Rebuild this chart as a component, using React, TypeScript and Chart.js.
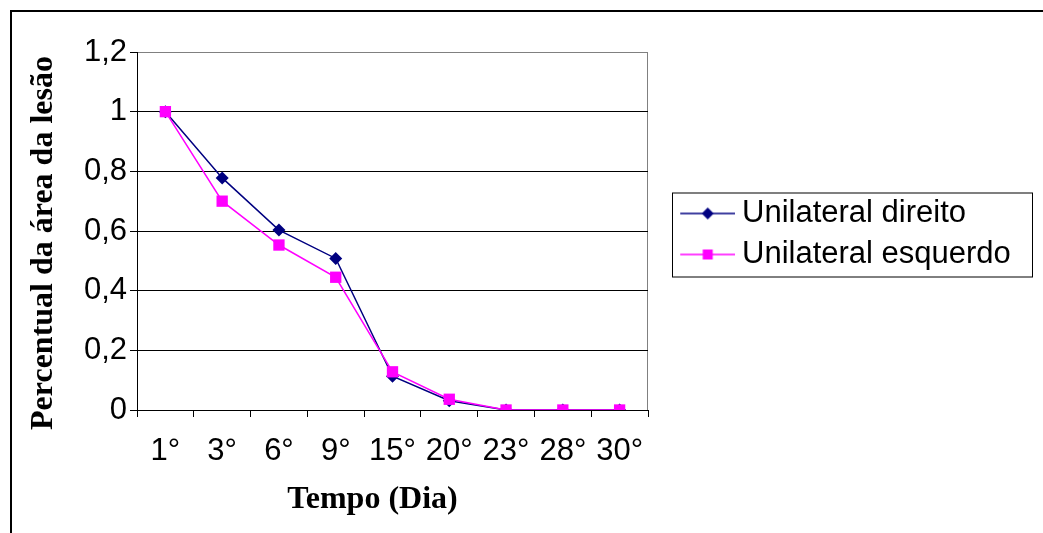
import React, { useEffect, useRef } from "react";
import { Chart, registerables } from "chart.js";

Chart.register(...registerables);

const categories = ["1°", "3°", "6°", "9°", "15°", "20°", "23°", "28°", "30°"];
const direito = [1, 0.778, 0.603, 0.508, 0.113, 0.031, 0, 0, 0];
const esquerdo = [1, 0.7, 0.553, 0.445, 0.128, 0.036, 0, 0, 0];
const seriesLabels = ["Unilateral direito", "Unilateral esquerdo"];
const yTickLabels = ["0", "0,2", "0,4", "0,6", "0,8", "1", "1,2"];
const xTitle = "Tempo (Dia)";
const yTitle = "Percentual da área da lesão";

const NAVY = "#000080";
const MAGENTA = "#FF00FF";

function makeIcon(color: string, shape: "diamond" | "square") {
  const c = document.createElement("canvas");
  c.width = 86;
  c.height = 20;
  const g = c.getContext("2d")!;
  g.strokeStyle = color;
  g.lineWidth = 1.5;
  g.beginPath();
  g.moveTo(31, 10);
  g.lineTo(86, 10);
  g.stroke();
  g.fillStyle = color;
  const cx = 58.5;
  if (shape === "diamond") {
    g.beginPath();
    g.moveTo(cx, 4);
    g.lineTo(cx + 6, 10);
    g.lineTo(cx, 16);
    g.lineTo(cx - 6, 10);
    g.closePath();
    g.fill();
  } else {
    g.fillRect(cx - 5, 5, 10, 10);
  }
  return c;
}

const plotBorder = {
  id: "plotBorder",
  beforeDraw(chart: any) {
    const { ctx, chartArea: a } = chart;
    ctx.save();
    ctx.strokeStyle = "#808080";
    ctx.lineWidth = 1;
    ctx.strokeRect(a.left + 0.5, a.top + 0.5, a.right - a.left - 1, a.bottom - a.top);
    ctx.restore();
  },
  afterDraw(chart: any) {
    const lg = chart.legend;
    if (!lg || !lg.legendHitBoxes || lg.legendHitBoxes.length < 2) return;
    const hb = lg.legendHitBoxes;
    const ctx = chart.ctx;
    const left = chart.chartArea.right + 24;
    const right = chart.chartArea.right + 384;
    const c0 = hb[0].top + hb[0].height / 2;
    const c1 = hb[1].top + hb[1].height / 2;
    const top = c0 - 21;
    const bottom = c1 + 22;
    ctx.save();
    ctx.strokeStyle = "#000";
    ctx.lineWidth = 1;
    ctx.strokeRect(left + 0.5, top + 0.5, right - left, bottom - top);
    ctx.restore();
  },
};

export default function App() {
  const ref = useRef<HTMLCanvasElement>(null);

  useEffect(() => {
    if (!ref.current) return;
    const icons = [makeIcon(NAVY, "diamond"), makeIcon(MAGENTA, "square")];
    const chart = new Chart(ref.current, {
      type: "line",
      data: {
        labels: categories,
        datasets: [
          {
            label: seriesLabels[0],
            data: direito,
            borderColor: NAVY,
            backgroundColor: NAVY,
            borderWidth: 1.5,
            pointStyle: "rectRot",
            pointRadius: 6.5,
            pointBorderWidth: 0,
            pointBackgroundColor: NAVY,
            tension: 0,
            order: 2,
          },
          {
            label: seriesLabels[1],
            data: esquerdo,
            borderColor: MAGENTA,
            backgroundColor: MAGENTA,
            borderWidth: 1.5,
            pointStyle: "rect",
            pointRadius: 8,
            pointBorderWidth: 0,
            pointBackgroundColor: MAGENTA,
            tension: 0,
            order: 1,
          },
        ],
      },
      options: {
        responsive: false,
        animation: false,
        layout: { padding: { top: 52, right: 25, bottom: 0, left: 0 } },
        plugins: {
          tooltip: { enabled: false },
          legend: {
            position: "right",
            fullSize: false,
            maxWidth: 370,
            title: {
              display: true,
              text: " ",
              padding: 0,
              font: { size: 5 },
            },
            labels: {
              usePointStyle: true,
              pointStyleWidth: 68.5,
              padding: 10,
              color: "#000",
              font: { family: "'Liberation Sans', Arial", size: 31 },
              sort: (a: any, b: any) => a.datasetIndex - b.datasetIndex,
              generateLabels: (ch: any) => {
                const items = (Chart.defaults.plugins.legend.labels as any).generateLabels(ch);
                items.forEach((it: any) => {
                  it.pointStyle = icons[it.datasetIndex];
                });
                return items;
              },
            },
          },
        },
        scales: {
          x: {
            type: "category",
            offset: true,
            afterFit: (scale: any) => {
              scale.height = 123;
            },
            grid: {
              offset: true,
              drawOnChartArea: false,
              drawTicks: true,
              tickLength: 7,
              tickColor: "#000",
              color: "#000",
            },
            border: { color: "#000", width: 1 },
            ticks: {
              color: "#000",
              padding: 16,
              maxRotation: 0,
              autoSkip: false,
              font: { family: "'Liberation Sans', Arial", size: 31 },
            },
            title: {
              display: true,
              text: xTitle + "     ",
              color: "#000",
              padding: { top: 0, bottom: 14 },
              font: { family: "'Liberation Serif', 'Times New Roman'", size: 32, weight: "bold" },
            },
          },
          y: {
            min: 0,
            max: 1.2,
            afterFit: (scale: any) => {
              scale.width = 137;
            },
            grid: {
              color: (ctx: any) => (ctx.index === 6 ? "#808080" : "#000"),
              lineWidth: 1,
              drawTicks: true,
              tickLength: 7,
              tickColor: "#000",
            },
            border: { color: "#000", width: 1 },
            ticks: {
              stepSize: 0.2,
              color: "#000",
              padding: 3,
              font: { family: "'Liberation Sans', Arial", size: 31 },
              callback: (_v: any, i: number) => yTickLabels[i],
            },
            title: {
              display: true,
              text: yTitle + "   ",
              color: "#000",
              padding: { top: 25, bottom: 0 },
              font: { family: "'Liberation Serif', 'Times New Roman'", size: 32, weight: "bold" },
            },
          },
        },
      },
      plugins: [plotBorder],
    });
    return () => chart.destroy();
  }, []);

  return (
    <div style={{ position: "fixed", left: 0, top: 0, width: 1043, height: 533, background: "#fff", overflow: "hidden" }}>
      <canvas ref={ref} width={1043} height={533} style={{ position: "absolute", left: 0, top: 0 }} />
      <div
        style={{
          position: "absolute",
          left: 10,
          top: 10,
          width: 1100,
          height: 600,
          borderLeft: "2px solid #000",
          borderTop: "2px solid #000",
          boxSizing: "border-box",
          pointerEvents: "none",
        }}
      />
    </div>
  );
}
